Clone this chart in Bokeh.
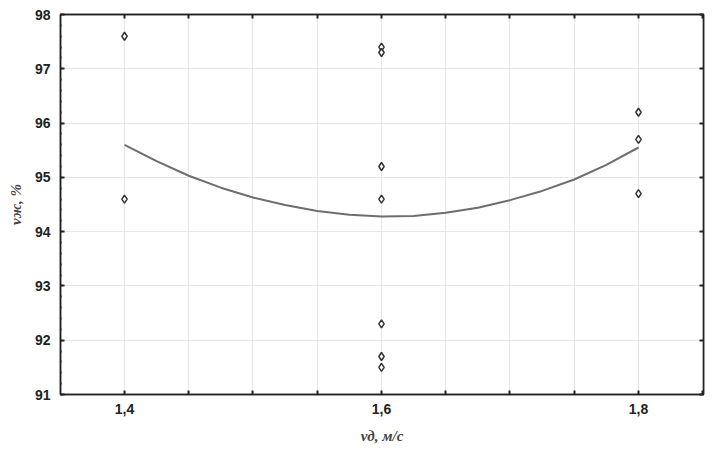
from bokeh.plotting import figure
from bokeh.models import FixedTicker, LinearAxis, Grid, ColumnDataSource, Range1d
from bokeh.embed import file_html
from bokeh.resources import INLINE

# data
x_points = [1.4, 1.4, 1.6, 1.6, 1.6, 1.6, 1.6, 1.6, 1.6, 1.8, 1.8, 1.8]
y_points = [97.6, 94.6, 97.4, 97.3, 95.2, 94.6, 92.3, 91.7, 91.5, 96.2, 95.7, 94.7]

curve_x = [1.4, 1.425, 1.45, 1.475, 1.5, 1.525, 1.55, 1.575, 1.6, 1.625,
           1.65, 1.675, 1.7, 1.725, 1.75, 1.775, 1.8]
curve_y = [95.60, 95.30, 95.03, 94.81, 94.63, 94.49, 94.38, 94.31, 94.28, 94.29,
           94.35, 94.44, 94.58, 94.75, 94.96, 95.23, 95.55]

x_tick_values = [1.4, 1.6, 1.8]
x_tick_labels = ["1,4", "1,6", "1,8"]
x_minor_values = [1.35, 1.45, 1.5, 1.55, 1.65, 1.7, 1.75, 1.85]
x_all_values = [1.35, 1.4, 1.45, 1.5, 1.55, 1.6, 1.65, 1.7, 1.75, 1.8, 1.85]
y_tick_values = [91, 92, 93, 94, 95, 96, 97, 98]
y_minor_values = [round(91 + 0.2 * i, 1) for i in range(36)]

x_label = "vд, м/с"
y_label = "vж, %"

p = figure(width=717, height=450, output_backend="svg", toolbar_location=None,
           x_range=Range1d(1.3502, 1.8506), y_range=Range1d(91, 98),
           x_axis_location=None, y_axis_location=None,
           min_border_left=60, min_border_right=14, min_border_top=14, min_border_bottom=56)
p.background_fill_color = "white"
p.border_fill_color = "white"
p.outline_line_color = "#222222"
p.outline_line_width = 1.5

axis_color = "#222222"
tick_font = "Liberation Sans"
label_font = "Liberation Serif"

x_ticker = FixedTicker(ticks=x_tick_values, minor_ticks=x_minor_values)
y_ticker = FixedTicker(ticks=y_tick_values, minor_ticks=y_minor_values)
# tick marks only (no labels) for the top and right frame sides
x_ticker_top = FixedTicker(ticks=[], minor_ticks=x_all_values)
y_ticker_right = FixedTicker(ticks=[], minor_ticks=y_tick_values)


def style_axis(ax, minor_in):
    ax.axis_line_color = axis_color
    ax.axis_line_width = 1.5
    ax.major_tick_in = 4
    ax.major_tick_out = 0
    ax.minor_tick_in = minor_in
    ax.minor_tick_out = 0
    ax.major_tick_line_color = axis_color
    ax.major_tick_line_width = 2
    ax.minor_tick_line_color = axis_color
    ax.minor_tick_line_width = 2
    ax.major_label_text_font = tick_font
    ax.major_label_text_font_style = "bold"
    ax.major_label_text_font_size = "14px"
    ax.major_label_text_color = "#222222"


xb = LinearAxis(ticker=x_ticker,
                major_label_overrides=dict(zip(x_tick_values, x_tick_labels)))
style_axis(xb, 4)
xb.major_label_standoff = 9
xb.axis_label = x_label
xb.axis_label_text_font = label_font
xb.axis_label_text_font_style = "bold italic"
xb.axis_label_text_font_size = "15px"
xb.axis_label_standoff = 11
p.add_layout(xb, "below")

xt = LinearAxis(ticker=x_ticker_top)
style_axis(xt, 4)
xt.major_label_standoff = 0
p.add_layout(xt, "above")

yl = LinearAxis(ticker=y_ticker)
style_axis(yl, 1)
yl.major_label_standoff = 10
yl.axis_label = y_label
yl.axis_label_text_font = label_font
yl.axis_label_text_font_style = "bold italic"
yl.axis_label_text_font_size = "15px"
yl.axis_label_standoff = 8
p.add_layout(yl, "left")

yr = LinearAxis(ticker=y_ticker_right)
style_axis(yr, 4)
yr.major_label_standoff = 0
p.add_layout(yr, "right")

p.add_layout(Grid(dimension=0, ticker=x_ticker, grid_line_color="#e6e6e6", grid_line_width=1,
                  minor_grid_line_color="#e6e6e6", minor_grid_line_width=1))
p.add_layout(Grid(dimension=1, ticker=y_ticker, grid_line_color="#e6e6e6", grid_line_width=1))

curve_src = ColumnDataSource(dict(x=curve_x, y=curve_y))
p.line("x", "y", source=curve_src, line_color="#6e6e6e", line_width=2)

pts = ColumnDataSource(dict(x=x_points, y=y_points))
p.scatter("x", "y", source=pts, marker="diamond", size=8, fill_color="white",
          line_color="#333333", line_width=1.5)

open("out.html", "w").write(file_html(p, INLINE))
